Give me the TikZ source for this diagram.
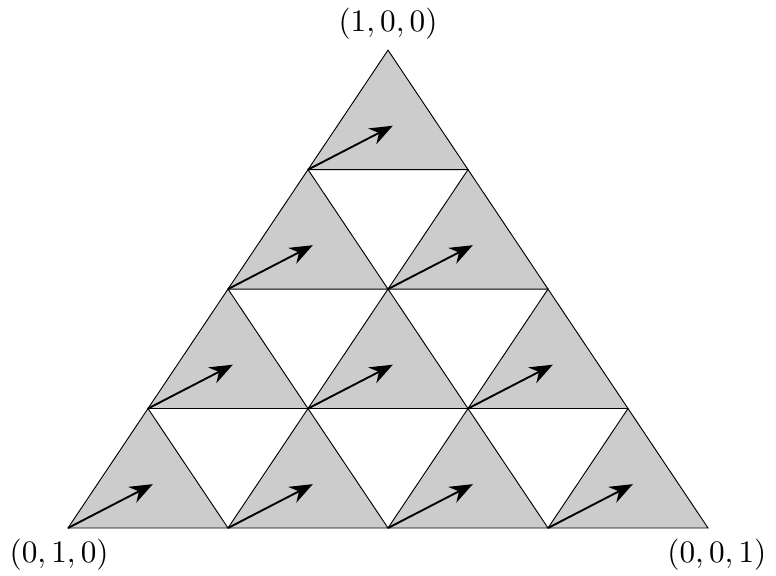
\documentclass[tikz,border=0pt]{standalone}
\usepackage{amsmath}
\usetikzlibrary{arrows.meta,calc,positioning}

\begin{document}
\begin{tikzpicture}[
    x=1.8cm, y=1.344cm,
    cell/.style={fill=black!20, draw=black, line width=0.3pt},
    arrow/.style={-{Stealth[length=2.6mm, width=2mm]}, semithick, black}
]
\useasboundingbox (-0.765cm,-0.529cm) rectangle (7.965cm,5.94cm);
% corners of the big triangle
\coordinate (A) at (0,0);
\coordinate (B) at (4,0);
\coordinate (C) at (2,4);
% upward cells, shaded, each with an arrow
\foreach \r in {0,...,3} {
  \pgfmathtruncatemacro{\last}{3-\r}
  \foreach \i in {0,...,\last} {
    \coordinate (v\r\i) at ({\i+0.5*\r},\r);
    \filldraw[cell] (v\r\i) -- ++(1,0) -- ++(-0.5,1) -- cycle;
  }
}
\foreach \r in {0,...,3} {
  \pgfmathtruncatemacro{\last}{3-\r}
  \foreach \i in {0,...,\last} {
    \coordinate (c\r\i) at ($(v\r\i)+(0.53,0.367)$);
    \draw[arrow] (v\r\i) -- (c\r\i);
  }
}
\node[above] (top) at (C) {$(1,0,0)$};
\node[below, xshift=-1mm] (left) at (A) {$(0,1,0)$};
\node[below, xshift=1mm] (right) at (B) {$(0,0,1)$};
\end{tikzpicture}
\end{document}
